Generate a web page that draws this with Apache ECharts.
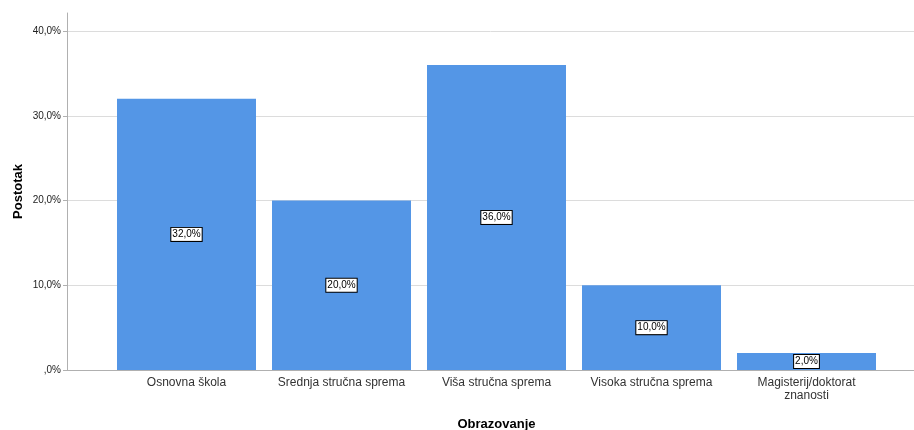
<!DOCTYPE html>
<html>
<head>
<meta charset="utf-8">
<script src="https://cdn.jsdelivr.net/npm/echarts@6/dist/echarts.min.js"></script>
<style>
  html, body { margin: 0; padding: 0; background: #fff; }
  #chart { width: 914px; height: 430px; }
</style>
</head>
<body>
<div id="chart"></div>
<script>
const categories = ['Osnovna škola', 'Srednja stručna sprema', 'Viša stručna sprema', 'Visoka stručna sprema', 'Magisterij/doktorat\nznanosti'];
const percentages = [32, 20, 36, 10, 2];
const yTicks = [0, 10, 20, 30, 40];

const fmt = v => (v === 0 ? '' : String(v)) + ',0%';
const barColor = '#5496e6';
const axisGray = '#b0b0b0';

const chart = echarts.init(document.getElementById('chart'));

chart.setOption({
  animation: false,
  textStyle: { fontFamily: 'Liberation Sans, Arial, sans-serif' },
  grid: [
    // frame (axis lines, extends above the top tick)
    { left: 67, right: 0, top: 13, bottom: 60, outerBoundsMode: 'none', containLabel: false },
    // value scale with gridlines
    { left: 67, right: 0, top: 31, bottom: 60, outerBoundsMode: 'none', containLabel: false },
    // category band for bars
    { left: 109, width: 775, top: 31, bottom: 60, outerBoundsMode: 'none', containLabel: false }
  ],
  xAxis: [
    {
      gridIndex: 0, type: 'value', min: 0, max: 1,
      axisLine: { show: true, lineStyle: { color: axisGray, width: 1 } },
      axisTick: { show: false }, axisLabel: { show: false }, splitLine: { show: false }
    },
    {
      gridIndex: 1, type: 'value', min: 0, max: 1, show: false
    },
    {
      gridIndex: 2, type: 'category', data: categories,
      axisLine: { show: false }, axisTick: { show: false },
      axisLabel: { interval: 0, color: '#333', fontSize: 12, margin: 6, lineHeight: 13 },
      name: 'Obrazovanje', nameLocation: 'middle', nameGap: 48,
      nameTextStyle: { fontWeight: 'bold', fontSize: 13, color: '#000' }
    }
  ],
  yAxis: [
    {
      gridIndex: 0, type: 'value', min: 0, max: 1,
      axisLine: { show: true, lineStyle: { color: axisGray, width: 1 } },
      axisTick: { show: false }, axisLabel: { show: false }, splitLine: { show: false },
      name: 'Postotak', nameLocation: 'middle', nameGap: 42, nameRotate: 90,
      nameTextStyle: { fontWeight: 'bold', fontSize: 13, color: '#000' }
    },
    {
      gridIndex: 1, type: 'value', min: yTicks[0], max: yTicks[yTicks.length - 1], interval: 10,
      axisLine: { show: false },
      axisTick: { show: true, length: 4, lineStyle: { color: axisGray } },
      axisLabel: { formatter: fmt, fontSize: 10, color: '#222', margin: 6, padding: [2, 0, 0, 0] },
      splitLine: { show: true, lineStyle: { color: '#dcdcdc', width: 1 } }
    },
    {
      gridIndex: 2, type: 'value', min: 0, max: 40, show: false
    }
  ],
  series: [{
    type: 'bar',
    xAxisIndex: 2,
    yAxisIndex: 2,
    data: percentages,
    barWidth: 139,
    itemStyle: { color: barColor },
    label: {
      show: true,
      position: 'inside',
      formatter: p => fmt(p.value),
      fontSize: 10,
      color: '#000',
      backgroundColor: '#fff',
      borderColor: '#000',
      borderWidth: 1,
      padding: [2, 1, 1, 1]
    }
  }]
});
</script>
</body>
</html>
